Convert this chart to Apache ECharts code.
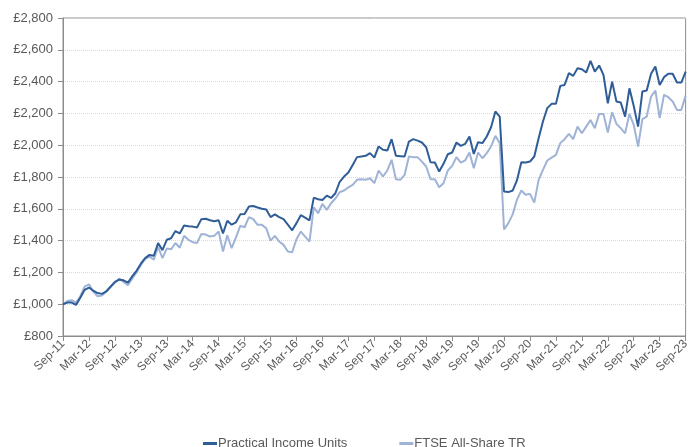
<!DOCTYPE html>
<html>
<head>
<meta charset="utf-8">
<script src="https://cdn.jsdelivr.net/npm/echarts@6/dist/echarts.min.js"></script>
<style>
  html, body { margin: 0; padding: 0; background: #fff; }
  #chart { width: 692px; height: 447px; }
</style>
</head>
<body>
<div id="chart"></div>
<script>
  // monthly values, Sep-11 .. Sep-23
  var practicalIncome = [
    1000, 1010, 1010, 995, 1040, 1090, 1105, 1085, 1070, 1065, 1080, 1110,
    1140, 1155, 1150, 1135, 1175, 1210, 1255, 1290, 1310, 1305, 1385, 1340,
    1405, 1415, 1460, 1445, 1495, 1490, 1488, 1482, 1535, 1537, 1528, 1522,
    1528, 1445, 1525, 1500, 1515, 1565, 1567, 1615, 1618, 1608, 1600, 1595,
    1548, 1565, 1548, 1535, 1500, 1465, 1510, 1560, 1545, 1527, 1670, 1660,
    1655, 1683, 1668, 1698, 1770, 1803, 1828, 1876, 1925, 1929, 1933, 1950,
    1922, 1992, 1971, 1966, 2038, 1933, 1931, 1929, 2023, 2038, 2029, 2017,
    1987, 1893, 1891, 1834, 1883, 1943, 1954, 2017, 1996, 2008, 2055, 1945,
    2019, 2013, 2055, 2113, 2212, 2180, 1709, 1705, 1715, 1780, 1893, 1891,
    1897, 1929, 2044, 2149, 2233, 2260, 2260, 2373, 2379, 2453, 2436, 2484,
    2478, 2457, 2530, 2463, 2501, 2442, 2264, 2400, 2275, 2268, 2180, 2358,
    2247, 2117, 2338, 2344, 2449, 2495, 2379, 2428, 2449, 2449, 2394, 2394,
    2463
  ]
  var ftseAllShare = [
    1000, 1020, 1025, 1010, 1050, 1110, 1125, 1080, 1050, 1055, 1080, 1110,
    1135, 1160, 1140, 1120, 1160, 1200, 1245, 1285, 1300, 1280, 1360, 1290,
    1350, 1345, 1385, 1355, 1430, 1405, 1390, 1385, 1442, 1438, 1426, 1430,
    1457, 1331, 1434, 1352, 1420, 1493, 1484, 1547, 1535, 1499, 1499, 1478,
    1400, 1430, 1394, 1373, 1331, 1327, 1409, 1457, 1425, 1394, 1610, 1572,
    1631, 1593, 1635, 1665, 1705, 1715, 1735, 1751, 1782, 1786, 1782, 1792,
    1761, 1841, 1803, 1841, 1908, 1786, 1782, 1813, 1929, 1925, 1925, 1897,
    1866, 1786, 1786, 1736, 1761, 1841, 1870, 1925, 1891, 1904, 1954, 1855,
    1954, 1918, 1950, 1992, 2059, 2013, 1470, 1510, 1565, 1658, 1715, 1688,
    1694, 1639, 1782, 1845, 1904, 1922, 1939, 2013, 2038, 2071, 2038, 2117,
    2075, 2117, 2159, 2107, 2197, 2197, 2080, 2208, 2134, 2107, 2075, 2197,
    2128, 1992, 2164, 2180, 2306, 2344, 2170, 2317, 2302, 2275, 2222, 2222,
    2312
  ]
  var monthNames = ['Jan', 'Feb', 'Mar', 'Apr', 'May', 'Jun', 'Jul', 'Aug', 'Sep', 'Oct', 'Nov', 'Dec']
  var months = []
  for (var i = 0; i < practicalIncome.length; i++) {
    var m = (8 + i) % 12
    var y = 11 + Math.floor((8 + i) / 12)
    months.push(monthNames[m] + '-' + y)
  }

  var textColor = '#595959'
  var axisColor = '#8c8c8c'
  var myChart = echarts.init(document.getElementById('chart'), null, { renderer: 'canvas' })

  var option = {
    animation: false,
    textStyle: { fontFamily: 'Liberation Sans, Arial, sans-serif' },
    grid: {
      left: 63,
      right: 2,
      top: 18,
      bottom: 111,
      show: true,
      borderColor: axisColor,
      borderWidth: 1
    },
    legend: {
      left: 198,
      top: 432,
      itemWidth: 14,
      itemHeight: 3,
      itemGap: 52,
      icon: 'rect',
      textStyle: {
        color: textColor,
        fontSize: 13,
        padding: [0, 0, 0, -4]
      },
      data: ['Practical Income Units', 'FTSE All-Share TR']
    },
    xAxis: {
      type: 'category',
      boundaryGap: false,
      data: months,
      axisLine: { lineStyle: { color: axisColor } },
      axisTick: {
        show: true,
        interval: 5,
        length: 5,
        lineStyle: { color: axisColor }
      },
      axisLabel: {
        interval: 5,
        rotate: 45,
        color: textColor,
        fontSize: 12,
        margin: 6
      },
      splitLine: { show: false }
    },
    yAxis: {
      type: 'value',
      min: 800,
      max: 2800,
      interval: 200,
      axisLine: { show: true, lineStyle: { color: axisColor } },
      axisTick: { show: true, length: 5, lineStyle: { color: axisColor } },
      axisLabel: {
        color: textColor,
        fontSize: 13,
        margin: 10,
        formatter: function (v) {
          return '£' + v.toLocaleString('en-GB')
        }
      },
      splitLine: {
        show: true,
        lineStyle: { color: '#d9d9d9', type: 'dotted' }
      }
    },
    series: [
      {
        name: 'Practical Income Units',
        type: 'line',
        data: practicalIncome,
        showSymbol: false,
        z: 3,
        lineStyle: { color: '#2f5d97', width: 2 },
        itemStyle: { color: '#2f5d97' }
      },
      {
        name: 'FTSE All-Share TR',
        type: 'line',
        data: ftseAllShare,
        showSymbol: false,
        z: 2,
        lineStyle: { color: '#9fb3d6', width: 2 },
        itemStyle: { color: '#9fb3d6' }
      }
    ]
  }

  myChart.setOption(option)
</script>
</body>
</html>
